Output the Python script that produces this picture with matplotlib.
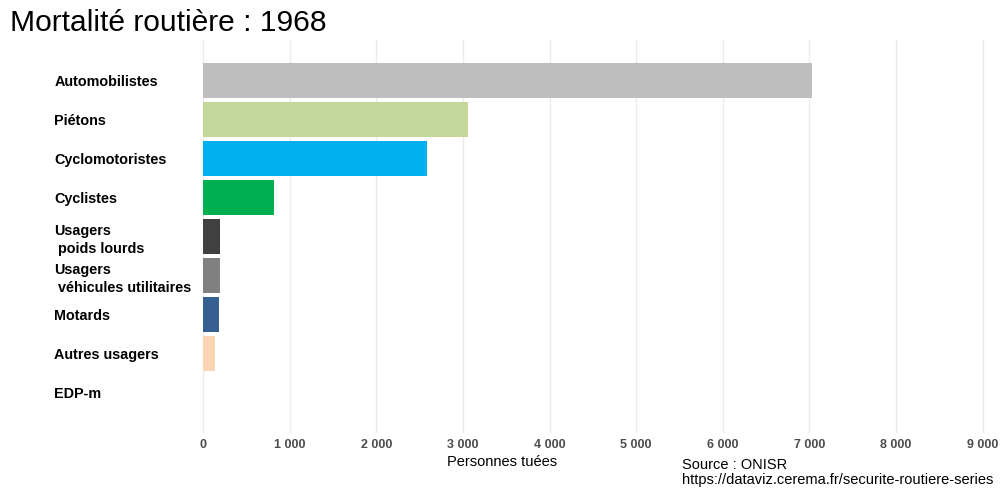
import matplotlib
matplotlib.use("Agg")
import matplotlib.pyplot as plt
import numpy as np

categories = [
    "Automobilistes",
    "Piétons",
    "Cyclomotoristes",
    "Cyclistes",
    "Usagers\n poids lourds",
    "Usagers\n véhicules utilitaires",
    "Motards",
    "Autres usagers",
    "EDP-m",
]
values = [7025, 3058, 2585, 819, 196, 196, 185, 138, 0]
colors = ["#bebebe", "#c4d79b", "#00b0f0", "#00b050", "#404040",
          "#808080", "#376092", "#fcd5b5", "#ffffff"]
xticks = [0, 1000, 2000, 3000, 4000, 5000, 6000, 7000, 8000, 9000]
xtick_labels = ["0", "1 000", "2 000", "3 000", "4 000", "5 000",
                "6 000", "7 000", "8 000", "9 000"]

plt.rcParams["font.family"] = ["Liberation Sans", "DejaVu Sans"]

fig = plt.figure(figsize=(10, 5), dpi=100)
ax = fig.add_axes([0.203, 0.134, 0.784, 0.786])

ys = np.arange(len(categories))
ax.barh(ys, values, height=0.9, color=colors)
ax.set_ylim(len(categories) - 1 + 1.05, -1.05)
ax.set_xlim(0, 9050)

ax.set_yticks(ys)
ax.set_yticklabels(categories, fontsize=10.4, fontweight="bold", ha="left",
                   linespacing=1.4, color="black")
ax.tick_params(axis="y", length=0, pad=107)

ax.set_xticks(xticks)
ax.set_xticklabels(xtick_labels, fontsize=9, fontweight="bold",
                   color="#4d4d4d")
ax.tick_params(axis="x", length=0, pad=4)

ax.grid(axis="x", color="#ebebeb", linewidth=1)
ax.set_axisbelow(True)
for s in ax.spines.values():
    s.set_visible(False)

fig.text(0.01, 0.938, "Mortalité routière : 1968", fontsize=21.6, ha="left")
fig.text(0.502, 0.068, "Personnes tuées", fontsize=10.5, ha="center")
fig.text(0.682, 0.032, "Source : ONISR\nhttps://dataviz.cerema.fr/securite-routiere-series",
         fontsize=10.5, ha="left", linespacing=1.1)

fig.savefig("out.png", dpi=100)
